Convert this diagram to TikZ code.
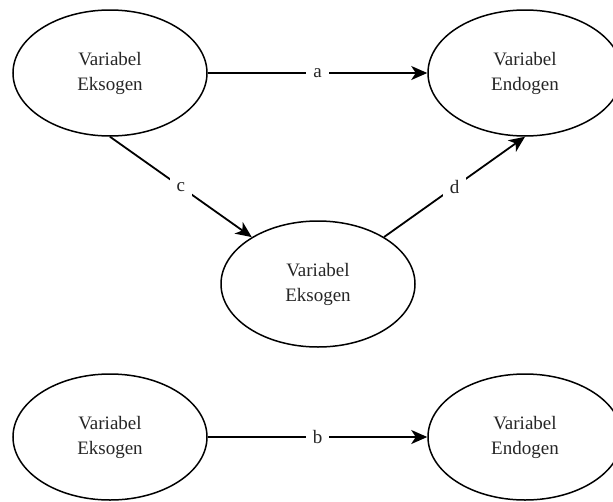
\documentclass[tikz,border=0pt]{standalone}
\usepackage{fontspec}
\setmainfont{Liberation Serif}
\usetikzlibrary{shapes.geometric,arrows.meta}
\begin{document}
\begin{tikzpicture}[x=1pt,y=-1pt,
  varnode/.style={ellipse,draw=black,line width=1.5pt,minimum width=194pt,minimum height=126pt,inner sep=0pt,align=center,font=\fontsize{19}{25}\selectfont,text=black!85},
  link/.style={line width=1.8pt,-{Stealth[length=16pt,width=14pt,inset=4.5pt]}},
  lbl/.style={fill=white,inner sep=7pt,font=\fontsize{19}{25}\selectfont,text=black!85}]
\clip (0,0) rectangle (613,501);
\fill[white] (0,0) rectangle (613,501);
\node[varnode] (tl) at (110,73) {Variabel\\Eksogen};
\node[varnode] (tr) at (525,73) {Variabel\\Endogen};
\node[varnode] (mid) at (318,284) {Variabel\\Eksogen};
\node[varnode] (bl) at (110,437) {Variabel\\Eksogen};
\node[varnode] (br) at (525,437) {Variabel\\Endogen};
\draw[link] (tl) -- node[lbl] {a} (tr);
\draw[link] (tl.south) -- node[lbl] {c} (mid);
\draw[link] (mid) -- node[lbl] {d} (tr.south);
\draw[link] (bl) -- node[lbl] {b} (br);
\end{tikzpicture}
\end{document}
